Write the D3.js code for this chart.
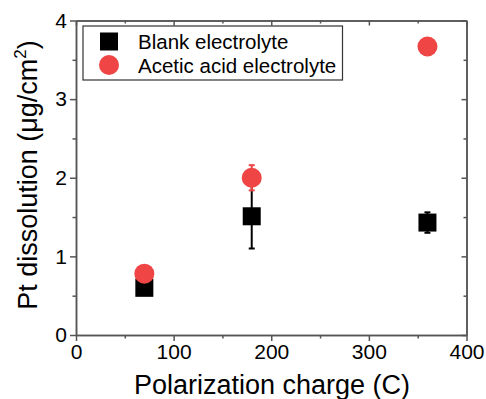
<!DOCTYPE html>
<html><head><meta charset="utf-8">
<script src="https://cdn.jsdelivr.net/npm/d3@7/dist/d3.min.js"></script>
<style>body{margin:0;background:#fff}svg{display:block}text{font-family:"Liberation Sans",Arial,sans-serif}</style>
</head><body><svg id="c" width="486" height="399"></svg>
<script>
const blankX = [70, 180, 360];
const blankY = [0.6, 1.51, 1.43];
const blankErr = [0.03, 0.41, 0.13];
const aceticX = [70, 180, 360];
const aceticY = [0.78, 2.0, 3.67];
const aceticErr = [0.1, 0.16, 0.03];
const xTicks = [0, 100, 200, 300, 400];
const yTicks = [0, 1, 2, 3, 4];
const seriesNames = ["Blank electrolyte", "Acetic acid electrolyte"];

const svg = d3.select("#c");
const L = 76, R = 466.5, T = 20.5, B = 335;
const x = d3.scaleLinear().domain([0, 400]).range([L, R]);
const y = d3.scaleLinear().domain([0, 4]).range([B, T]);
const axisCol = "#555";
const red = "#f04545";

function styleAxis(g){
  g.selectAll("path.domain").attr("stroke", axisCol).attr("stroke-width", 1.5);
  g.selectAll(".tick line").attr("stroke", axisCol).attr("stroke-width", 1.5);
  g.selectAll("text").attr("font-size", 21).attr("fill", "#000");
}
const minorX = d3.range(50, 400, 100);
const minorY = d3.range(0.5, 4, 1);
// bottom
svg.append("g").attr("transform", `translate(0,${B})`)
  .call(d3.axisBottom(x).tickValues(xTicks).tickSize(6).tickPadding(3).tickSizeOuter(0))
  .call(styleAxis);
svg.append("g").attr("transform", `translate(0,${B})`)
  .call(d3.axisBottom(x).tickValues(minorX).tickSize(3.5).tickFormat("").tickSizeOuter(0))
  .call(styleAxis);
// top
svg.append("g").attr("transform", `translate(0,${T})`)
  .call(d3.axisBottom(x).tickValues(xTicks).tickSize(5).tickFormat("").tickSizeOuter(0))
  .call(styleAxis);
svg.append("g").attr("transform", `translate(0,${T})`)
  .call(d3.axisBottom(x).tickValues(minorX).tickSize(3).tickFormat("").tickSizeOuter(0))
  .call(styleAxis);
// left
svg.append("g").attr("transform", `translate(${L},0)`)
  .call(d3.axisLeft(y).tickValues(yTicks).tickFormat(d3.format("d")).tickSize(6).tickPadding(3).tickSizeOuter(0))
  .call(styleAxis);
svg.append("g").attr("transform", `translate(${L},0)`)
  .call(d3.axisLeft(y).tickValues(minorY).tickSize(3.5).tickFormat("").tickSizeOuter(0))
  .call(styleAxis);
// right
svg.append("g").attr("transform", `translate(${R},0)`)
  .call(d3.axisLeft(y).tickValues(yTicks).tickSize(5).tickFormat("").tickSizeOuter(0))
  .call(styleAxis);
svg.append("g").attr("transform", `translate(${R},0)`)
  .call(d3.axisLeft(y).tickValues(minorY).tickSize(3).tickFormat("").tickSizeOuter(0))
  .call(styleAxis);

// axis titles
svg.append("text").attr("x", 272).attr("y", 394).attr("text-anchor", "middle")
  .attr("font-size", 27).text("Polarization charge (C)");
const yt = svg.append("text").attr("transform", `translate(37,175) rotate(-90)`)
  .attr("text-anchor", "middle").attr("font-size", 27);
yt.append("tspan").text("Pt dissolution (μg/cm");
yt.append("tspan").attr("font-size", 17).attr("dy", -11).text("2");
yt.append("tspan").attr("dy", 11).text(")");

function errBars(xs, ys, es, col){
  const g = svg.append("g").attr("stroke", col).attr("stroke-width", 2);
  xs.forEach((xv, i) => {
    const cx = x(xv), y1 = y(ys[i] + es[i]), y2 = y(ys[i] - es[i]);
    g.append("line").attr("x1", cx).attr("x2", cx).attr("y1", y1).attr("y2", y2);
    g.append("line").attr("x1", cx - 3).attr("x2", cx + 3).attr("y1", y1).attr("y2", y1);
    g.append("line").attr("x1", cx - 3).attr("x2", cx + 3).attr("y1", y2).attr("y2", y2);
  });
}
const S = 18;
errBars(blankX, blankY, blankErr, "#000");
svg.append("g").selectAll("rect").data(blankX).join("rect")
  .attr("x", (d) => x(d) - S / 2).attr("y", (d, i) => y(blankY[i]) - S / 2)
  .attr("width", S).attr("height", S).attr("fill", "#000");
errBars(aceticX, aceticY, aceticErr, red);
svg.append("g").selectAll("circle").data(aceticX).join("circle")
  .attr("cx", (d) => x(d)).attr("cy", (d, i) => y(aceticY[i])).attr("r", 10).attr("fill", red);

// legend
const lg = svg.append("g");
lg.append("rect").attr("x", 83).attr("y", 26).attr("width", 259.5).attr("height", 54)
  .attr("fill", "#fff").attr("stroke", "#333").attr("stroke-width", 1.2);
lg.append("rect").attr("x", 109 - S / 2).attr("y", 41.5 - S / 2).attr("width", S).attr("height", S).attr("fill", "#000");
lg.append("circle").attr("cx", 109).attr("cy", 65).attr("r", 10).attr("fill", red);
lg.append("text").attr("x", 138).attr("y", 49).attr("font-size", 20.5).text(seriesNames[0]);
lg.append("text").attr("x", 138).attr("y", 73).attr("font-size", 20.5).text(seriesNames[1]);
</script></body></html>
